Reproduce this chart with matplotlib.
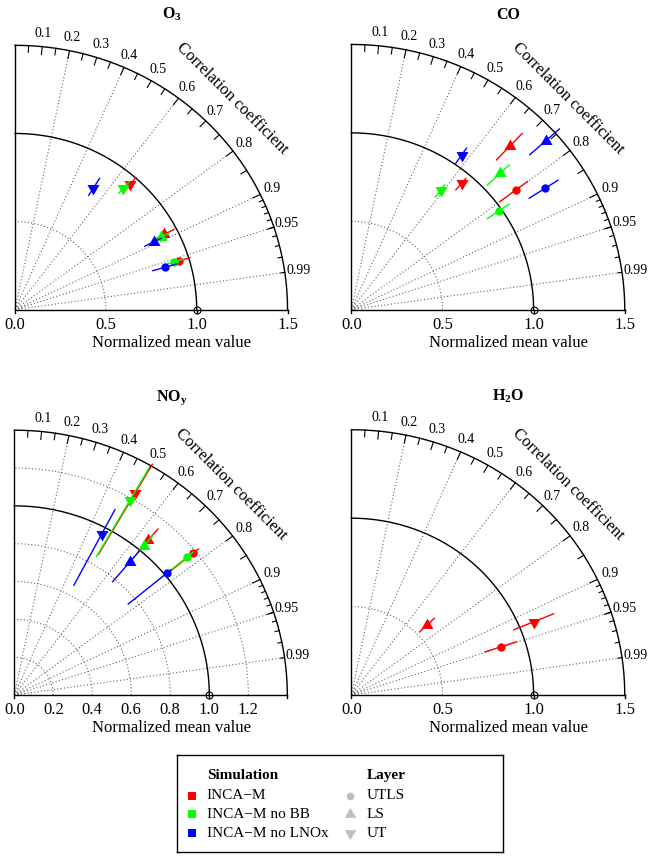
import numpy as np
import matplotlib.pyplot as plt

plt.rcParams['font.family'] = ['Liberation Serif', 'DejaVu Serif']
plt.rcParams['mathtext.fontset'] = 'custom'
plt.rcParams['mathtext.rm'] = 'Liberation Serif'
plt.rcParams['mathtext.bf'] = 'Liberation Serif:bold'

sims = ['INCA\u2212M', 'INCA\u2212M no BB', 'INCA\u2212M no LNOx']
sim_colors = ['#FF0000', '#00FF00', '#0000FF']
layers = ['UTLS', 'LS', 'UT']

# rows = simulation (INCA-M, no BB, no LNOx), columns = layer (UTLS, LS, UT)
o3_mean = [[0.946, 0.927, 0.954], [0.918, 0.902, 0.911], [0.860, 0.857, 0.813]]
o3_corr = [[0.956, 0.887, 0.664], [0.955, 0.890, 0.654], [0.960, 0.893, 0.530]]
o3_lo = [[0.90, 0.88, 0.91], [0.88, 0.86, 0.875], [0.79, 0.80, 0.766]]
o3_hi = [[1.007, 0.988, 1.003], [0.97, 0.955, 0.96], [0.929, 0.90, 0.878]]

co_mean = [[1.128, 1.271, 0.937], [0.986, 1.123, 0.836], [1.265, 1.433, 1.064]]
co_corr = [[0.800, 0.685, 0.646], [0.823, 0.727, 0.587], [0.840, 0.745, 0.569]]
co_lo = [[1.019, 1.162, 0.888], [0.907, 1.027, 0.787], [1.162, 1.314, 1.008]]
co_hi = [[1.208, 1.368, 0.972], [1.052, 1.192, 0.873], [1.350, 1.532, 1.111]]

noy_mean = [[1.187, 1.069, 1.233], [1.150, 1.031, 1.189], [1.012, 0.921, 0.962]]
noy_corr = [[0.774, 0.643, 0.502], [0.772, 0.645, 0.499], [0.772, 0.644, 0.466]]
noy_lo = [[1.00, 0.99, 0.86], [0.97, 0.93, 0.845], [0.757, 0.783, 0.656]]
noy_hi = [[1.22, 1.146, 1.41], [1.19, 1.10, 1.38], [1.04, 1.0, 1.107]]

nan = np.nan
h2o_mean = [[0.865, 0.574, 1.086], [nan, nan, nan], [nan, nan, nan]]
h2o_corr = [[0.949, 0.724, 0.924], [nan, nan, nan], [nan, nan, nan]]
h2o_lo = [[0.773, 0.517, 0.965], [nan, nan, nan], [nan, nan, nan]]
h2o_hi = [[0.954, 0.629, 1.202], [nan, nan, nan], [nan, nan, nan]]

up_tri = [(-1, -0.577), (1, -0.577), (0, 1.155)]
down_tri = [(-1, 0.577), (1, 0.577), (0, -1.155)]
layer_markers = ['o', up_tri, down_tri]
layer_ms = [6, 10, 10]

W, H = 654, 859
fig = plt.figure(figsize=(W / 100, H / 100), dpi=100)
grid_kw = dict(ls=(0, (1, 2)), lw=0.8, color='#666666', clip_on=False)


def draw_panel(ox, oy, sx, maxray, xticks, arcs, title, title_dy,
               mean, corr, lo, hi):
    sy = sx * 0.97
    ax = fig.add_axes([ox / W, 1 - oy / H, maxray * sx / W, maxray * sy / H])
    ax.set_xlim(0, maxray)
    ax.set_ylim(0, maxray)
    ax.axis('off')
    t = np.linspace(0, np.pi / 2, 300)

    for a in arcs:
        ax.plot(a * np.cos(t), a * np.sin(t), **grid_kw)
    for c in [0.2, 0.4, 0.6, 0.8, 0.9, 0.95, 0.99]:
        g = np.arccos(c)
        ax.plot([0, maxray * np.cos(g)], [0, maxray * np.sin(g)], **grid_kw)

    ax.plot(np.cos(t), np.sin(t), color='black', lw=1, clip_on=False)
    ax.plot(maxray * np.cos(t), maxray * np.sin(t), color='black', lw=1, clip_on=False)
    ax.plot([0, 0, maxray], [maxray, 0, 0], color='black', lw=1, clip_on=False)

    # ticks on the correlation arc
    for vals, f in [(np.arange(0.1, 0.95, 0.1), 0.97),
                    (np.append(np.arange(0.05, 0.9, 0.1), 0.95), 0.975),
                    (np.arange(0.91, 0.995, 0.01), 0.985)]:
        for c in vals:
            g = np.arccos(c)
            ax.plot([maxray * np.cos(g), f * maxray * np.cos(g)],
                    [maxray * np.sin(g), f * maxray * np.sin(g)],
                    color='black', lw=0.8, clip_on=False)
    for c in [0.1, 0.2, 0.3, 0.4, 0.5, 0.6, 0.7, 0.8, 0.9, 0.95, 0.99]:
        g = np.arccos(c)
        ax.text(1.05 * maxray * np.cos(g), 1.05 * maxray * np.sin(g), f'{c:g}',
                ha='center', va='center', fontsize=10)
    ax.text(217 / sx, 211 / sy, 'Correlation coefficient', rotation=-45,
            rotation_mode='anchor', ha='center', va='center', fontsize=12)

    # bottom axis
    for v in [0, 1, maxray]:
        ax.plot([v, v], [0, -3 / sy], color='black', lw=1, clip_on=False)
    for v in xticks:
        ax.text(v, -15.5 / sy, f'{v:.1f}', ha='center', va='center', fontsize=12)
    ax.text(157 / sx, -33.5 / sy, 'Normalized mean value', ha='center',
            va='center', fontsize=12)
    ax.plot(1, 0, 'o', mfc='none', mec='black', ms=5, mew=0.8, clip_on=False)

    ax.text(157 / sx, title_dy / sy, title, ha='center', va='baseline',
            fontsize=11.5, fontweight='bold')

    # model points with radial error bars
    for i in range(3):
        for j in range(3):
            if np.isnan(mean[i][j]):
                continue
            g = np.arccos(corr[i][j])
            ax.plot([lo[i][j] * np.cos(g), hi[i][j] * np.cos(g)],
                    [lo[i][j] * np.sin(g), hi[i][j] * np.sin(g)],
                    color=sim_colors[i], lw=1, clip_on=False)
            ax.plot(mean[i][j] * np.cos(g), mean[i][j] * np.sin(g),
                    marker=layer_markers[j], ms=layer_ms[j], color=sim_colors[i],
                    mew=0, ls='none', clip_on=False)


draw_panel(15, 309.7, 181.7, 1.5, [0, 0.5, 1.0, 1.5], [0.5], r'$\mathbf{O_3}$', 291,
           o3_mean, o3_corr, o3_lo, o3_hi)
draw_panel(351.3, 309.7, 182.3, 1.5, [0, 0.5, 1.0, 1.5], [0.5], 'CO', 291,
           co_mean, co_corr, co_lo, co_hi)
draw_panel(14.3, 695, 195, 1.4, [0, 0.2, 0.4, 0.6, 0.8, 1.0, 1.2],
           [0.2, 0.4, 0.6, 0.8, 1.2], r'$\mathbf{NO_y}$', 294,
           noy_mean, noy_corr, noy_lo, noy_hi)
draw_panel(351.3, 695, 182.3, 1.5, [0, 0.5, 1.0, 1.5], [0.5], r'$\mathbf{H_2O}$', 294,
           h2o_mean, h2o_corr, h2o_lo, h2o_hi)

# legend box
lx0, lx1, ly0, ly1 = 177, 503, 755, 852
lax = fig.add_axes([lx0 / W, 1 - ly1 / H, (lx1 - lx0) / W, (ly1 - ly0) / H])
lax.set_xlim(lx0, lx1)
lax.set_ylim(ly1, ly0)
lax.set_xticks([])
lax.set_yticks([])
for s in lax.spines.values():
    s.set_linewidth(1)
rows = [795.7, 814.3, 833.3]
lax.text(206.7, 775, 'Simulation', fontweight='bold', fontsize=11, va='center')
lax.text(366.7, 775, 'Layer', fontweight='bold', fontsize=11, va='center')
for k in range(3):
    lax.plot(191.7, rows[k], 's', ms=5.5, color=sim_colors[k], mew=0)
    lax.text(206.7, rows[k], sims[k], fontsize=11, va='center')
    lax.plot(350, rows[k], marker=layer_markers[k], ms=[5.5, 9.5, 9.5][k],
             color='#BEBEBE', mew=0, ls='none')
    lax.text(366.7, rows[k], layers[k], fontsize=11, va='center')

fig.savefig('out.png', dpi=100)
